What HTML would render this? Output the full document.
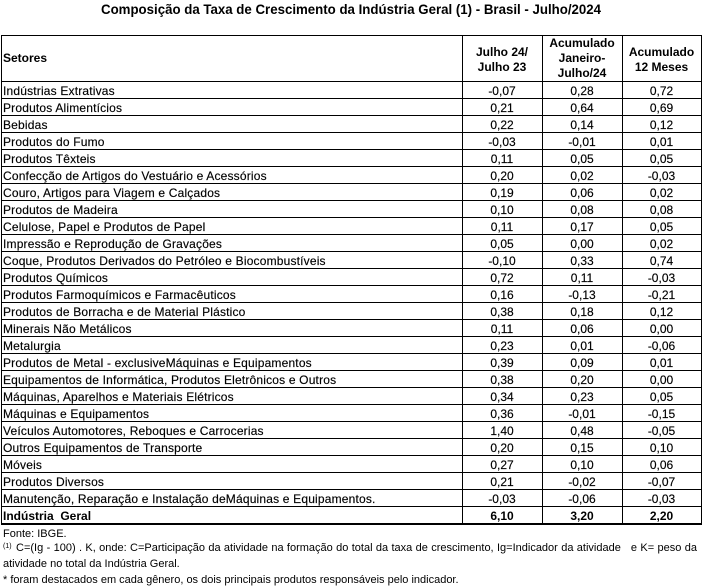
<!DOCTYPE html>
<html>
<head>
<meta charset="utf-8">
<style>
  html,body{margin:0;padding:0;background:#fff;}
  body{width:702px;height:588px;position:relative;overflow:hidden;font-family:"Liberation Sans",Arial,sans-serif;color:#000;}
  svg{position:absolute;left:0;top:0;}
  .fn2{position:absolute;left:16px;top:542px;width:681px;font-size:11px;line-height:13px;white-space:nowrap;text-align:justify;text-align-last:justify;}
</style>
</head>
<body>
<svg width="702" height="588" viewBox="0 0 702 588" xmlns="http://www.w3.org/2000/svg" font-family="Liberation Sans, Arial, sans-serif">
  <!-- Title -->
  <text x="351" y="14" text-anchor="middle" font-weight="bold" font-size="14" textLength="500" lengthAdjust="spacingAndGlyphs">Composição da Taxa de Crescimento da Indústria Geral (1) - Brasil - Julho/2024</text>

  <!-- Grid -->
  <g fill="#000" shape-rendering="crispEdges">
    <rect x="1" y="35" width="701" height="1"/>
    <rect x="1" y="81" width="701" height="1"/>
    <rect x="1" y="98" width="701" height="1"/>
    <rect x="1" y="115" width="701" height="1"/>
    <rect x="1" y="132" width="701" height="1"/>
    <rect x="1" y="149" width="701" height="1"/>
    <rect x="1" y="166" width="701" height="1"/>
    <rect x="1" y="183" width="701" height="1"/>
    <rect x="1" y="200" width="701" height="1"/>
    <rect x="1" y="217" width="701" height="1"/>
    <rect x="1" y="234" width="701" height="1"/>
    <rect x="1" y="251" width="701" height="1"/>
    <rect x="1" y="268" width="701" height="1"/>
    <rect x="1" y="285" width="701" height="1"/>
    <rect x="1" y="302" width="701" height="1"/>
    <rect x="1" y="319" width="701" height="1"/>
    <rect x="1" y="336" width="701" height="1"/>
    <rect x="1" y="353" width="701" height="1"/>
    <rect x="1" y="370" width="701" height="1"/>
    <rect x="1" y="387" width="701" height="1"/>
    <rect x="1" y="404" width="701" height="1"/>
    <rect x="1" y="421" width="701" height="1"/>
    <rect x="1" y="438" width="701" height="1"/>
    <rect x="1" y="455" width="701" height="1"/>
    <rect x="1" y="472" width="701" height="1"/>
    <rect x="1" y="489" width="701" height="1"/>
    <rect x="1" y="506" width="701" height="1"/>
    <rect x="1" y="523" width="701" height="2"/>
    <rect x="1" y="35" width="1" height="490"/>
    <rect x="462" y="35" width="1" height="490"/>
    <rect x="542" y="35" width="1" height="490"/>
    <rect x="622" y="35" width="1" height="490"/>
    <rect x="701" y="35" width="1" height="490"/>
  </g>

  <!-- Header -->
  <g font-weight="bold" font-size="12">
    <text x="3" y="62">Setores</text>
    <text x="502" y="56" text-anchor="middle">Julho 24/</text>
    <text x="502" y="71" text-anchor="middle">Julho 23</text>
    <text x="582" y="47" text-anchor="middle">Acumulado</text>
    <text x="582" y="62" text-anchor="middle">Janeiro-</text>
    <text x="582" y="77" text-anchor="middle">Julho/24</text>
    <text x="661.5" y="56" text-anchor="middle">Acumulado</text>
    <text x="661.5" y="71" text-anchor="middle">12 Meses</text>
  </g>

  <!-- Body -->
  <g font-size="12" letter-spacing="0.18" stroke="#000" stroke-width="0.15">
    <text x="3" y="95">Indústrias Extrativas</text>
    <text x="3" y="112">Produtos Alimentícios</text>
    <text x="3" y="129">Bebidas</text>
    <text x="3" y="146">Produtos do Fumo</text>
    <text x="3" y="163">Produtos Têxteis</text>
    <text x="3" y="180">Confecção de Artigos do Vestuário e Acessórios</text>
    <text x="3" y="197">Couro, Artigos para Viagem e Calçados</text>
    <text x="3" y="214">Produtos de Madeira</text>
    <text x="3" y="231">Celulose, Papel e Produtos de Papel</text>
    <text x="3" y="248">Impressão e Reprodução de Gravações</text>
    <text x="3" y="265">Coque, Produtos Derivados do Petróleo e Biocombustíveis</text>
    <text x="3" y="282">Produtos Químicos</text>
    <text x="3" y="299">Produtos Farmoquímicos e Farmacêuticos</text>
    <text x="3" y="316">Produtos de Borracha e de Material Plástico</text>
    <text x="3" y="333">Minerais Não Metálicos</text>
    <text x="3" y="350">Metalurgia</text>
    <text x="3" y="367">Produtos de Metal - exclusiveMáquinas e Equipamentos</text>
    <text x="3" y="384">Equipamentos de Informática, Produtos Eletrônicos e Outros</text>
    <text x="3" y="401">Máquinas, Aparelhos e Materiais Elétricos</text>
    <text x="3" y="418">Máquinas e Equipamentos</text>
    <text x="3" y="435">Veículos Automotores, Reboques e Carrocerias</text>
    <text x="3" y="452">Outros Equipamentos de Transporte</text>
    <text x="3" y="469">Móveis</text>
    <text x="3" y="486">Produtos Diversos</text>
    <text x="3" y="503">Manutenção, Reparação e Instalação deMáquinas e Equipamentos.</text>
  </g>

  <g font-size="12" text-anchor="middle" stroke="#000" stroke-width="0.15">
    <!-- col 2 -->
    <text x="502" y="95">-0,07</text>
    <text x="502" y="112">0,21</text>
    <text x="502" y="129">0,22</text>
    <text x="502" y="146">-0,03</text>
    <text x="502" y="163">0,11</text>
    <text x="502" y="180">0,20</text>
    <text x="502" y="197">0,19</text>
    <text x="502" y="214">0,10</text>
    <text x="502" y="231">0,11</text>
    <text x="502" y="248">0,05</text>
    <text x="502" y="265">-0,10</text>
    <text x="502" y="282">0,72</text>
    <text x="502" y="299">0,16</text>
    <text x="502" y="316">0,38</text>
    <text x="502" y="333">0,11</text>
    <text x="502" y="350">0,23</text>
    <text x="502" y="367">0,39</text>
    <text x="502" y="384">0,38</text>
    <text x="502" y="401">0,34</text>
    <text x="502" y="418">0,36</text>
    <text x="502" y="435">1,40</text>
    <text x="502" y="452">0,20</text>
    <text x="502" y="469">0,27</text>
    <text x="502" y="486">0,21</text>
    <text x="502" y="503">-0,03</text>
    <!-- col 3 -->
    <text x="582" y="95">0,28</text>
    <text x="582" y="112">0,64</text>
    <text x="582" y="129">0,14</text>
    <text x="582" y="146">-0,01</text>
    <text x="582" y="163">0,05</text>
    <text x="582" y="180">0,02</text>
    <text x="582" y="197">0,06</text>
    <text x="582" y="214">0,08</text>
    <text x="582" y="231">0,17</text>
    <text x="582" y="248">0,00</text>
    <text x="582" y="265">0,33</text>
    <text x="582" y="282">0,11</text>
    <text x="582" y="299">-0,13</text>
    <text x="582" y="316">0,18</text>
    <text x="582" y="333">0,06</text>
    <text x="582" y="350">0,01</text>
    <text x="582" y="367">0,09</text>
    <text x="582" y="384">0,20</text>
    <text x="582" y="401">0,23</text>
    <text x="582" y="418">-0,01</text>
    <text x="582" y="435">0,48</text>
    <text x="582" y="452">0,15</text>
    <text x="582" y="469">0,10</text>
    <text x="582" y="486">-0,02</text>
    <text x="582" y="503">-0,06</text>
    <!-- col 4 -->
    <text x="661.5" y="95">0,72</text>
    <text x="661.5" y="112">0,69</text>
    <text x="661.5" y="129">0,12</text>
    <text x="661.5" y="146">0,01</text>
    <text x="661.5" y="163">0,05</text>
    <text x="661.5" y="180">-0,03</text>
    <text x="661.5" y="197">0,02</text>
    <text x="661.5" y="214">0,08</text>
    <text x="661.5" y="231">0,05</text>
    <text x="661.5" y="248">0,02</text>
    <text x="661.5" y="265">0,74</text>
    <text x="661.5" y="282">-0,03</text>
    <text x="661.5" y="299">-0,21</text>
    <text x="661.5" y="316">0,12</text>
    <text x="661.5" y="333">0,00</text>
    <text x="661.5" y="350">-0,06</text>
    <text x="661.5" y="367">0,01</text>
    <text x="661.5" y="384">0,00</text>
    <text x="661.5" y="401">0,05</text>
    <text x="661.5" y="418">-0,15</text>
    <text x="661.5" y="435">-0,05</text>
    <text x="661.5" y="452">0,10</text>
    <text x="661.5" y="469">0,06</text>
    <text x="661.5" y="486">-0,07</text>
    <text x="661.5" y="503">-0,03</text>
  </g>

  <!-- Total row -->
  <g font-size="12" font-weight="bold">
    <text x="3" y="520" xml:space="preserve">Indústria  Geral</text>
    <text x="502" y="520" text-anchor="middle">6,10</text>
    <text x="582" y="520" text-anchor="middle">3,20</text>
    <text x="661.5" y="520" text-anchor="middle">2,20</text>
  </g>

  <!-- Footnotes -->
  <g font-size="11">
    <text x="3" y="537">Fonte: IBGE.</text>
    <text x="3" y="548" font-size="7">(1)</text>
    <text x="3" y="567">atividade no total da Indústria Geral.</text>
    <text x="3" y="583">* foram destacados em cada gênero, os dois principais produtos responsáveis pelo indicador.</text>
  </g>
</svg>
<div class="fn2">C=(Ig - 100) . K, onde: C=Participação da atividade na formação do total da taxa de crescimento, Ig=Indicador da atividade &nbsp; e K= peso da</div>
</body>
</html>
